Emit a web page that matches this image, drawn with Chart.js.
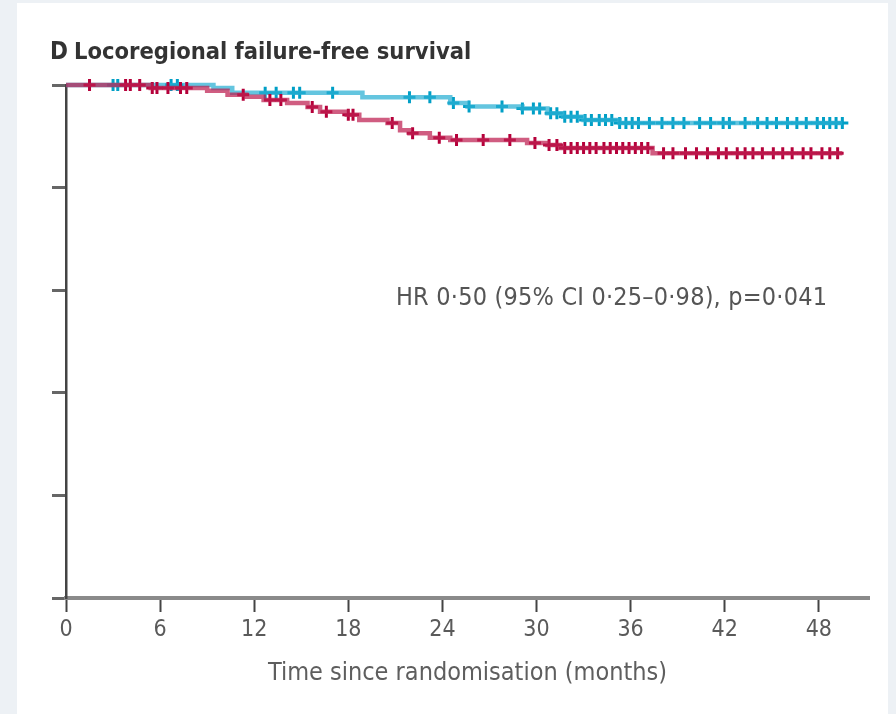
<!DOCTYPE html>
<html>
<head>
<meta charset="utf-8">
<title>Locoregional failure-free survival</title>
<script src="https://cdn.jsdelivr.net/npm/chart.js@4.4.1/dist/chart.umd.min.js"></script>
<style>
    html, body {
        margin: 0;
        padding: 0;
        width: 896px;
        height: 714px;
        background: #edf1f5;
        overflow: hidden;
    }
    #panel {
        position: absolute;
        left: 17px;
        top: 3px;
        width: 871px;
        height: 711px;
        background: #ffffff;
    }
    #grafico {
        position: absolute;
        left: 0;
        top: 0;
    }
    .texto {
        position: absolute;
        white-space: nowrap;
        font-family: "Liberation Sans Narrow", "DejaVu Sans Condensed", sans-serif;
        line-height: 1;
    }
    #titulo {
        left: 50px;
        top: 39px;
        font-size: 23.5px;
        font-weight: bold;
        color: #333;
    }
    #titulo .letra {
        font-size: 24px;
        margin-right: 6px;
    }
    #nota {
        left: 396px;
        top: 284px;
        font-size: 25px;
        letter-spacing: 0.2px;
        color: #555;
    }
</style>
</head>
<body>
<div id="panel"></div>
<canvas id="grafico" width="896" height="714"></canvas>
<div id="titulo" class="texto"><span class="letra">D</span>Locoregional failure-free survival</div>
<div id="nota" class="texto">HR 0·50 (95% CI 0·25–0·98), p=0·041</div>

<script>
// Escalones de la curva azul (meses, % libre de fallo locorregional)
const azulTiempos = [0, 9.4, 10.6, 18.9, 24.5, 25.6, 29.1, 30.7, 31.7, 33.0, 35.3, 49.5];
const azulValores = [100, 99.4, 98.5, 97.6, 96.5, 95.8, 95.4, 94.5, 93.8, 93.2, 92.6, 92.6];
const azulCensuras = [3.0, 3.3, 6.7, 7.1, 12.7, 13.4, 14.5, 14.9, 17.0, 21.9, 23.2, 24.7, 25.7,
    27.8, 29.1, 29.8, 30.2, 30.9, 31.3, 31.8, 32.2, 32.6, 33.1, 33.5, 34.0, 34.4, 34.8, 35.3,
    35.7, 36.1, 36.5, 37.2, 38.0, 38.7, 39.4, 40.4, 41.1, 41.9, 42.3, 43.3, 44.1, 44.7, 45.3,
    46.0, 46.6, 47.2, 47.9, 48.3, 48.7, 49.1, 49.5];

// Escalones de la curva roja
const rojoTiempos = [0, 5.4, 9.0, 10.3, 11.5, 12.6, 14.1, 15.4, 16.2, 17.9, 18.7, 20.5, 21.3,
    21.9, 23.2, 24.5, 29.4, 30.7, 31.5, 37.4, 49.5];
const rojoValores = [100, 99.4, 98.9, 98.1, 97.7, 97.1, 96.5, 95.7, 94.8, 94.2, 93.2, 92.6, 91.2,
    90.6, 89.7, 89.3, 88.7, 88.3, 87.7, 86.7, 86.7];
const rojoCensuras = [1.5, 3.8, 4.1, 4.7, 5.5, 5.8, 6.5, 7.3, 7.7, 11.3, 13.0, 13.7, 15.7, 16.6,
    18.0, 18.3, 20.8, 22.1, 23.8, 24.9, 26.6, 28.3, 29.9, 30.8, 31.3, 31.8, 32.2, 32.6, 33.0,
    33.4, 33.8, 34.3, 34.7, 35.1, 35.5, 35.9, 36.3, 36.7, 37.1, 38.1, 38.7, 39.5, 40.2, 40.9,
    41.6, 42.1, 42.8, 43.3, 43.8, 44.4, 45.1, 45.7, 46.3, 47.0, 47.5, 48.2, 48.7, 49.2];

// Marcas de los ejes
const ticksMeses = [0, 6, 12, 18, 24, 30, 36, 42, 48];
const ticksPorcentaje = [0, 20, 40, 60, 80, 100];

const FUENTE = '"Liberation Sans Narrow", "DejaVu Sans Condensed", sans-serif';

// Valor de la curva escalonada en un instante dado
function valorEn(tiempos, valores, t) {
    let v = valores[0];
    for (let i = 0; i < tiempos.length; i++) {
        if (tiempos[i] <= t) v = valores[i];
    }
    return v;
}

function puntos(tiempos, valores) {
    return tiempos.map((t, i) => ({ x: t, y: valores[i] }));
}

function censuras(lista, tiempos, valores) {
    return lista.map(t => ({ x: t, y: valorEn(tiempos, valores, t) }));
}

function curva(datos, color) {
    return {
        data: datos,
        borderColor: color,
        borderWidth: 4.5,
        stepped: 'before',
        pointRadius: 0,
        fill: false,
        clip: false
    };
}

function marcas(datos, color) {
    return {
        data: datos,
        showLine: false,
        pointStyle: 'cross',
        pointRadius: 6,
        pointBorderWidth: 3,
        pointBorderColor: color,
        borderColor: color,
        clip: false
    };
}

function crearGrafico() {
    const ctx = document.getElementById('grafico');
    new Chart(ctx, {
        type: 'line',
        data: {
            datasets: [
                curva(puntos(rojoTiempos, rojoValores), 'rgba(190, 30, 80, 0.72)'),
                marcas(censuras(rojoCensuras, rojoTiempos, rojoValores), '#b5003a'),
                curva(puntos(azulTiempos, azulValores), 'rgba(40, 175, 210, 0.72)'),
                marcas(censuras(azulCensuras, azulTiempos, azulValores), '#009fc6')
            ]
        },
        options: {
            responsive: false,
            animation: false,
            events: [],
            layout: {
                padding: { left: 52, top: 85, right: 27, bottom: 0 }
            },
            plugins: {
                legend: { display: false },
                tooltip: { enabled: false }
            },
            scales: {
                x: {
                    type: 'linear',
                    min: 0,
                    max: 51.2,
                    afterBuildTicks: escala => {
                        escala.ticks = ticksMeses.map(v => ({ value: v }));
                    },
                    afterFit: escala => { escala.height = 116; },
                    border: { display: true, color: '#8a8a8a', width: 4 },
                    grid: {
                        drawOnChartArea: false,
                        drawTicks: true,
                        tickLength: 14,
                        tickColor: '#444',
                        tickWidth: 2
                    },
                    ticks: {
                        color: '#5a5a5a',
                        font: { family: FUENTE, size: 23 },
                        padding: 4,
                        maxRotation: 0
                    },
                    title: {
                        display: true,
                        text: 'Time since randomisation (months)',
                        color: '#5e5e5e',
                        font: { family: FUENTE, size: 25 },
                        padding: { top: 0, bottom: 26 }
                    }
                },
                y: {
                    min: 0,
                    max: 100,
                    afterBuildTicks: escala => {
                        escala.ticks = ticksPorcentaje.map(v => ({ value: v }));
                    },
                    afterFit: escala => { escala.width = 14; },
                    border: { display: true, color: '#444', width: 2.5 },
                    grid: {
                        drawOnChartArea: false,
                        drawTicks: true,
                        tickLength: 14,
                        tickColor: '#666',
                        tickWidth: 3
                    },
                    ticks: { display: false }
                }
            }
        }
    });
}

crearGrafico();
</script>
</body>
</html>
